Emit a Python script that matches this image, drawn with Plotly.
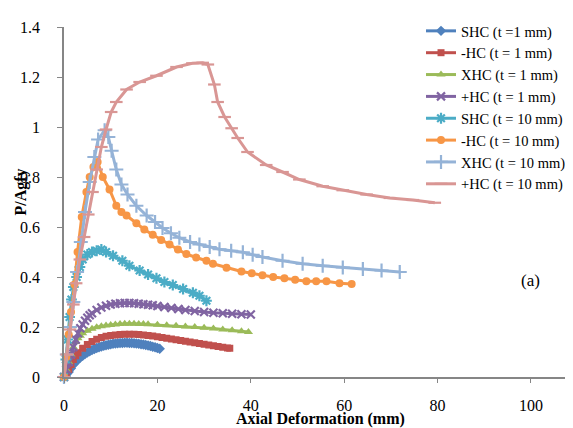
import plotly.graph_objects as go

# ---- data ----
shc1_x = [0,0.5,1,1.5,2,2.5,3,3.5,4,4.5,5,5.5,6,6.5,7,7.5,8,8.5,9,9.5,10,10.5,11,11.5,12,12.5,13,13.5,14,14.5,15,15.5,16,16.5,17,17.5,18,18.5,19,19.5,20,20.5]
shc1_y = [0,0.01,0.02,0.035,0.05,0.06,0.07,0.078,0.085,0.092,0.098,0.103,0.108,0.112,0.116,0.119,0.122,0.125,0.127,0.129,0.131,0.133,0.134,0.135,0.136,0.136,0.137,0.137,0.136,0.136,0.135,0.134,0.133,0.131,0.13,0.128,0.126,0.124,0.121,0.119,0.116,0.113]

mhc1_x = [0,0.5,1,1.5,2,2.5,3,4,5,6,7,8,9,10,11,12,13,14,15,16,17,18,19,20,21,22,23,24,25,26,27,28,29,30,31,32,33,34,35,35.5]
mhc1_y = [0,0.015,0.03,0.05,0.07,0.085,0.097,0.115,0.13,0.142,0.151,0.158,0.163,0.166,0.168,0.17,0.171,0.171,0.171,0.17,0.168,0.166,0.164,0.161,0.158,0.155,0.152,0.149,0.146,0.143,0.14,0.137,0.134,0.131,0.128,0.125,0.122,0.119,0.116,0.115]

xhc1_x = [0,0.5,1,1.5,2,2.5,3,3.5,4,5,6,7,8,9,10,11,12,13,14,15,16,17,18,20,22,24,26,28,30,32,34,36,38,39.5]
xhc1_y = [0,0.03,0.06,0.09,0.12,0.14,0.155,0.165,0.175,0.185,0.193,0.199,0.203,0.206,0.208,0.21,0.212,0.213,0.213,0.213,0.212,0.212,0.211,0.209,0.207,0.205,0.202,0.2,0.197,0.194,0.19,0.187,0.183,0.18]

phc1_x = [0,0.5,1,1.5,2,2.5,3,3.5,4,4.5,5,5.5,6,7,8,9,10,11,12,13,14,15,16,17,18,19,20,21.5,23,24.5,26,28,30,32,34,36,38,40]
phc1_y = [0,0.03,0.06,0.09,0.12,0.15,0.175,0.195,0.21,0.225,0.237,0.247,0.255,0.268,0.278,0.285,0.29,0.293,0.295,0.296,0.296,0.295,0.293,0.291,0.289,0.287,0.284,0.28,0.276,0.272,0.268,0.264,0.26,0.257,0.255,0.253,0.251,0.25]

shc10_x = [0,0.4,0.8,1.2,1.6,2,2.7,3.4,4,5,6,7,8,9,10.5,12.5,14,16.2,18,19.8,21.5,23.3,25.5,27.6,29,30.5]
shc10_y = [0,0.07,0.15,0.24,0.31,0.36,0.40,0.44,0.47,0.49,0.5,0.505,0.51,0.5,0.485,0.465,0.445,0.426,0.41,0.395,0.38,0.368,0.352,0.337,0.325,0.305]

mhc10_x = [0,0.5,1,1.5,2.25,2.9,3.8,4.8,5.5,6.3,7.2,8.3,9.75,11.2,12.3,13.4,15.5,17.2,19,20.8,22.6,24.4,26.2,28.3,30.5,31.9,34.8,38,40.2,42.5,44.8,47.2,49.5,51.9,54,56.2,59,61.6]
mhc10_y = [0,0.08,0.17,0.26,0.37,0.5,0.64,0.74,0.8,0.84,0.86,0.8,0.75,0.685,0.66,0.646,0.615,0.59,0.569,0.548,0.53,0.51,0.492,0.478,0.465,0.453,0.437,0.422,0.415,0.407,0.4,0.395,0.389,0.383,0.383,0.383,0.375,0.372]

xhc10_x = [0,0.6,1.3,2,2.8,3.6,4.5,5.5,6.5,7.3,8.7,9.5,10.2,11.2,12.3,13.6,15.5,17.7,19.5,21.1,22.9,24.7,27,29,31.2,33.3,35.8,38.3,40.4,42.5,46.8,51.1,55.4,59.7,64,68,71.9]
xhc10_y = [0,0.09,0.2,0.3,0.42,0.54,0.66,0.78,0.88,0.95,0.987,0.96,0.905,0.83,0.77,0.73,0.685,0.646,0.62,0.596,0.575,0.557,0.54,0.53,0.52,0.511,0.505,0.499,0.489,0.48,0.465,0.453,0.445,0.438,0.432,0.426,0.42]

phc10_x = [0,0.6,1.3,2,2.6,3.4,4.3,5.2,6.1,7,8,9,10.1,11.2,13.4,16.2,19.8,24.1,27.5,29.7,30.8,32.2,32.9,34.4,35.9,37.2,39.3,43.3,46.8,50.4,55.4,59.7,64.8,69.8,74.7,79.4]
phc10_y = [0,0.09,0.19,0.29,0.375,0.47,0.56,0.65,0.74,0.83,0.92,0.99,1.06,1.10,1.15,1.18,1.205,1.24,1.255,1.257,1.25,1.17,1.10,1.04,0.995,0.956,0.90,0.848,0.82,0.79,0.763,0.747,0.73,0.716,0.708,0.697]

names = ["SHC (t =1 mm)", "-HC (t = 1 mm)", "XHC (t = 1 mm)", "+HC (t = 1 mm)",
         "SHC (t = 10 mm)", "-HC (t = 10 mm)", "XHC (t = 10 mm)", "+HC (t = 10 mm)"]
colors = ["#4F81BD", "#C0504D", "#9BBB59", "#8064A2",
          "#4BACC6", "#F79646", "#95B3D7", "#D99694"]
xs = [shc1_x, mhc1_x, xhc1_x, phc1_x, shc10_x, mhc10_x, xhc10_x, phc10_x]
ys = [shc1_y, mhc1_y, xhc1_y, phc1_y, shc10_y, mhc10_y, xhc10_y, phc10_y]
symbols = ["diamond", "square", "triangle-up", "x-thin",
           "asterisk", "circle", "cross-thin", "line-ew"]
msizes = [8, 7, 8, 8, 9, 8, 10, 9]

FONT = "Liberation Serif, Times New Roman, serif"

fig = go.Figure()
for n, x, y, c, s, ms in zip(names, xs, ys, colors, symbols, msizes):
    thin = s in ("x-thin", "asterisk", "cross-thin", "line-ew")
    marker = dict(symbol=s, size=ms, color=c)
    if thin:
        marker["line"] = dict(color=c, width=2.2)
    fig.add_trace(go.Scatter(x=x, y=y, name=n, mode="lines+markers",
                             line=dict(color=c, width=3), marker=marker,
                             cliponaxis=False))

fig.update_layout(
    width=573, height=428,
    margin=dict(l=56, r=8, t=7, b=59),
    paper_bgcolor="white", plot_bgcolor="white",
    font=dict(family=FONT, size=16, color="black"),
    showlegend=True,
    legend=dict(x=0.7014, y=1.0345, xanchor="left", yanchor="top",
                font=dict(family=FONT, size=14.5, color="black"),
                bgcolor="rgba(0,0,0,0)", itemwidth=30, tracegroupgap=0),
    xaxis=dict(range=[0, 109], tickvals=[0, 20, 40, 60, 80, 100],
               showgrid=False, zeroline=False, showline=True,
               linecolor="#868686", linewidth=1.5,
               ticks="outside", ticklen=4, tickcolor="#868686",
               ticklabelstandoff=9,
               tickfont=dict(family=FONT, size=16, color="black")),
    yaxis=dict(range=[0, 1.4], dtick=0.2, tick0=0,
               showgrid=False, zeroline=False, showline=True,
               linecolor="#868686", linewidth=1.5,
               ticks="outside", ticklen=5, tickcolor="#868686",
               ticklabelstandoff=14,
               tickfont=dict(family=FONT, size=16, color="black")),
    annotations=[
        dict(text="<b>Axial Deformation (mm)</b>", xref="paper", yref="paper",
             x=0.503, y=-0.119, xanchor="center", yanchor="middle",
             showarrow=False, font=dict(size=16, family=FONT, color="black")),
        dict(text="<b>P/Agfy</b>", xref="paper", yref="paper",
             x=-0.0845, y=0.53, xanchor="center", yanchor="middle",
             textangle=-90, showarrow=False,
             font=dict(size=16, family=FONT, color="black")),
        dict(text="(a)", xref="x", yref="y", x=100, y=0.385,
             xanchor="center", yanchor="middle",
             showarrow=False, font=dict(size=17, family=FONT, color="black")),
    ],
)

fig.write_html("out.html")
